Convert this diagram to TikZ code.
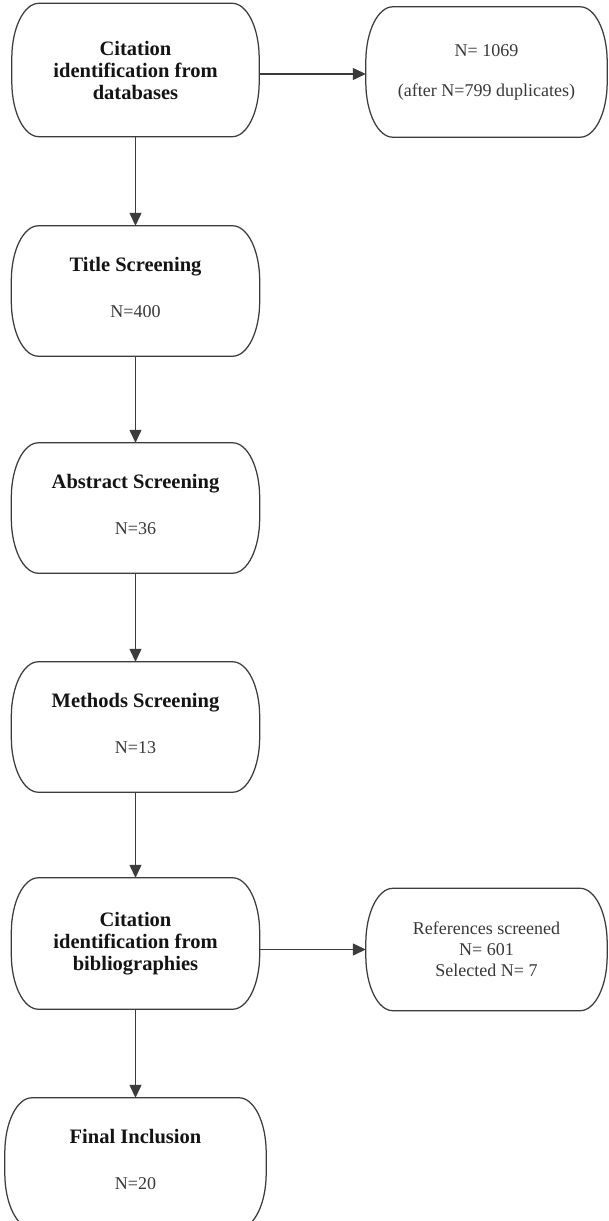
\documentclass[tikz,border=0pt]{standalone}
\usepackage{fontspec}
\setmainfont{Liberation Serif}
\usetikzlibrary{arrows.meta}
\definecolor{linec}{HTML}{3C3C3C}
\definecolor{boldc}{HTML}{141414}
\definecolor{regc}{HTML}{383838}
\newcommand\bt[1]{{\fontsize{20.5}{22}\selectfont\bfseries\color{boldc}#1}}
\newcommand\dnstrut{\rule[-8pt]{0pt}{8pt}}
\newcommand\capsule[1]{%
  \draw[boxline] ([xshift=27pt]#1.north west) -- ([xshift=-27pt]#1.north east)
    arc[start angle=90,end angle=0,x radius=27pt,y radius=55pt]
    -- ([yshift=55pt]#1.south east)
    arc[start angle=0,end angle=-90,x radius=27pt,y radius=55pt]
    -- ([xshift=27pt]#1.south west)
    arc[start angle=270,end angle=180,x radius=27pt,y radius=55pt]
    -- ([yshift=-55pt]#1.north west)
    arc[start angle=180,end angle=90,x radius=27pt,y radius=55pt] -- cycle;}
\tikzset{
  box/.style={rectangle, draw=none, inner sep=0pt, align=center,
    font=\fontsize{18}{22}\selectfont, text=regc},
  boldbox/.style={box, font=\fontsize{20.5}{22}\selectfont\bfseries, text=boldc},
  boxline/.style={draw=linec, line width=1.25pt},
  arr/.style={draw=linec, line width=1.25pt, -{Triangle[width=12pt,length=13pt]}},
}
\begin{document}
\begin{tikzpicture}[x=1pt,y=-1pt]
\useasboundingbox (0,0) rectangle (608,1221);
\clip (0,0) rectangle (608,1221);
\fill[white] (0,0) rectangle (608,1221);

\node[boldbox, minimum width=247pt, minimum height=133pt] (db) at (135.5,70)
  {Citation\\identification from\\databases};
\node[box, minimum width=241pt, minimum height=130pt] (dup) at (486.5,72)
  {N= 1069\\[18pt](after N=799 duplicates)};
\node[box, minimum width=248pt, minimum height=130pt] (title) at (135.5,291)
  {\bt{Title Screening}\\[24pt]N=400\dnstrut};
\node[box, minimum width=248pt, minimum height=130pt] (abs) at (135.5,508)
  {\bt{Abstract Screening}\\[24pt]N=36\dnstrut};
\node[box, minimum width=248pt, minimum height=130pt] (meth) at (135.5,727)
  {\bt{Methods Screening}\\[24pt]N=13\dnstrut};
\node[boldbox, minimum width=248pt, minimum height=131pt] (bib) at (135.5,943.5)
  {Citation\\identification from\\bibliographies};
\node[box, font=\fontsize{18}{21}\selectfont, minimum width=241pt, minimum height=122pt] (refs) at (486.5,949.5)
  {References screened\\N= 601\\Selected N= 7};
\node[box, minimum width=261pt, minimum height=130pt] (final) at (135.5,1163)
  {\bt{Final Inclusion}\\[24pt]N=20\dnstrut};

\foreach \n in {db,dup,title,abs,meth,bib,refs,final} {\capsule{\n}}

\path ([yshift=-4pt]db.east) coordinate (dbout);
\draw[arr] (dbout) -- (dbout -| dup.west);
\draw[arr] (db) -- (title);
\draw[arr] (title) -- (abs);
\draw[arr] (abs) -- (meth);
\draw[arr] (meth) -- (bib);
\draw[arr] (bib.east |- refs.west) -- (refs.west);
\draw[arr] (bib) -- (final);
\end{tikzpicture}
\end{document}
